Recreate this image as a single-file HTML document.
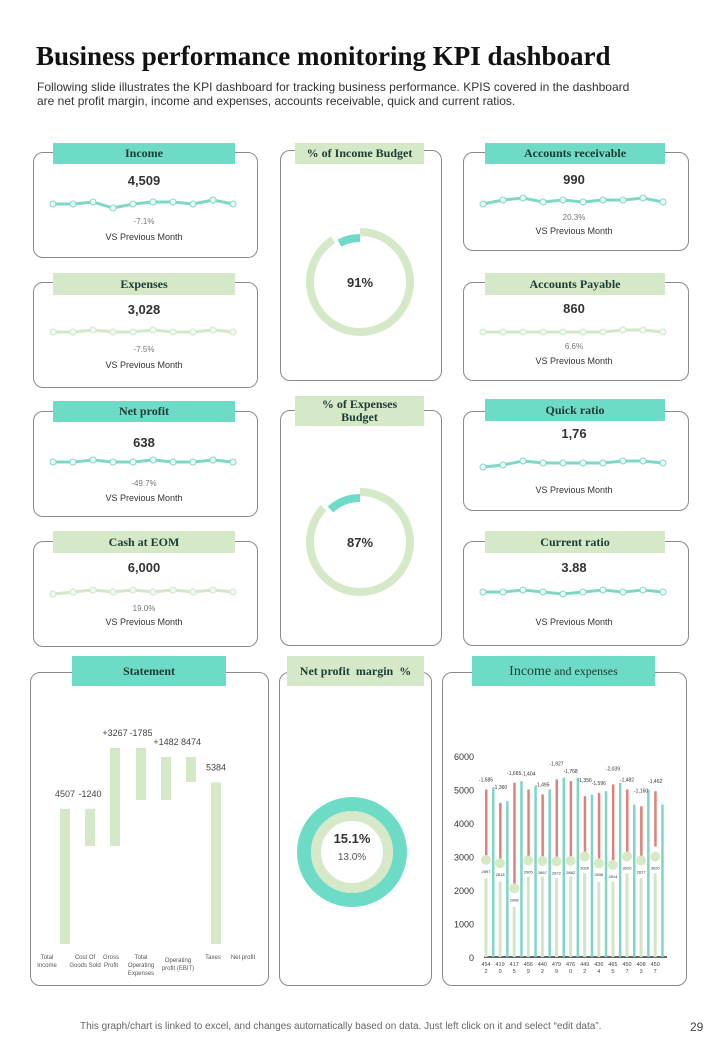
<!DOCTYPE html>
<html><head><meta charset="utf-8">
<style>
body{margin:0;background:#fff;font-family:"Liberation Sans",sans-serif;}
#root{position:relative;width:720px;height:1040px;overflow:hidden;}
.t{position:absolute;white-space:nowrap;}
.card{position:absolute;border:1px solid #8a8a8a;border-radius:10px;background:#fff;}
.hd{position:absolute;font-family:"Liberation Serif",serif;font-weight:bold;font-size:12px;color:#1d3b33;text-align:center;display:flex;align-items:center;justify-content:center;line-height:13px;}
.teal{background:#6edbc6;}.lg{background:#d5e9c9;}
svg{position:absolute;left:0;top:0;}
</style></head><body>
<div id="root">
<div class="t" style="left:36px;top:41px;font-family:'Liberation Serif',serif;font-weight:bold;font-size:27px;color:#111;">Business performance monitoring KPI dashboard</div>
<div class="t" style="left:37px;top:80px;font-size:12px;color:#333;line-height:14px;">Following slide illustrates the KPI dashboard for tracking business performance. KPIS covered in the dashboard<br>are net profit margin, income and expenses, accounts receivable, quick and current ratios.</div>

<div class="card" style="left:33px;top:152px;width:223px;height:104px"></div>
<div class="card" style="left:33px;top:282px;width:223px;height:104px"></div>
<div class="card" style="left:33px;top:411px;width:223px;height:104px"></div>
<div class="card" style="left:33px;top:541px;width:223px;height:104px"></div>
<div class="card" style="left:280px;top:150px;width:160px;height:229px"></div>
<div class="card" style="left:280px;top:410px;width:160px;height:234px"></div>
<div class="card" style="left:463px;top:152px;width:224px;height:97px"></div>
<div class="card" style="left:463px;top:282px;width:224px;height:97px"></div>
<div class="card" style="left:463px;top:411px;width:224px;height:98px"></div>
<div class="card" style="left:463px;top:541px;width:224px;height:103px"></div>
<div class="card" style="left:30px;top:672px;width:237px;height:312px"></div>
<div class="card" style="left:279px;top:672px;width:151px;height:312px"></div>
<div class="card" style="left:442px;top:672px;width:243px;height:312px"></div>

<div class="hd teal" style="left:53px;top:143px;width:182px;height:21px">Income</div>
<div class="hd lg" style="left:53px;top:273px;width:182px;height:22px">Expenses</div>
<div class="hd teal" style="left:53px;top:401px;width:182px;height:21px">Net profit</div>
<div class="hd lg" style="left:53px;top:531px;width:182px;height:22px">Cash at EOM</div>
<div class="hd lg" style="left:295px;top:143px;width:129px;height:21px">% of Income Budget</div>
<div class="hd lg" style="left:295px;top:396px;width:129px;height:30px">% of Expenses<br>Budget</div>
<div class="hd teal" style="left:485px;top:143px;width:180px;height:21px">Accounts receivable</div>
<div class="hd lg" style="left:485px;top:273px;width:180px;height:22px">Accounts Payable</div>
<div class="hd teal" style="left:485px;top:399px;width:180px;height:22px">Quick ratio</div>
<div class="hd lg" style="left:485px;top:531px;width:180px;height:22px">Current ratio</div>
<div class="hd teal" style="left:72px;top:656px;width:154px;height:30px">Statement</div>
<div class="hd lg" style="left:287px;top:656px;width:137px;height:30px">Net profit &nbsp;margin &nbsp;%</div>
<div class="hd teal" style="left:472px;top:656px;width:183px;height:30px;font-size:14px;font-weight:normal">Income <span style="font-size:12px">&nbsp;and expenses</span></div>

<svg id="g" width="720" height="1040"></svg>

<div class="t" style="left:80px;top:1021px;font-size:10px;color:#666;">This graph/chart is linked to excel, and changes automatically based on data. Just left click on it and select “edit data”.</div>
<div class="t" style="left:690px;top:1020px;font-size:12px;color:#444;">29</div>
</div>
<script>
const NS="http://www.w3.org/2000/svg",svg=document.getElementById('g');
function el(tag,a,txt){const e=document.createElementNS(NS,tag);for(const k in a)e.setAttribute(k,a[k]);if(txt!==undefined)e.textContent=txt;svg.appendChild(e);return e;}

// KPI sparkline data
const kpiNames=["income","expenses","net-profit","cash-eom","accounts-receivable","accounts-payable","quick-ratio","current-ratio"];
const kpiValues=["4,509","3,028","638","6,000","990","860","1,76","3.88"];
const kpiChanges=["-7.1%","-7.5%","-49.7%","19.0%","20.3%","6.6%","",""];
const sparkIncome=[5,5,6,3,5,6,6,5,7,5];
const sparkExpenses=[5,5,6,5,5,6,5,5,6,5];
const sparkNetProfit=[5,5,6,5,5,6,5,5,6,5];
const sparkCash=[4,5,6,5,6,5,6,5,6,5];
const sparkAR=[3,5,6,4,5,4,5,5,6,4];
const sparkAP=[5,5,5,5,5,5,5,6,6,5];
const sparkQuick=[3,4,6,5,5,5,5,6,6,5];
const sparkCurrent=[5,5,6,5,4,5,6,5,6,5];
const sparks=[sparkIncome,sparkExpenses,sparkNetProfit,sparkCash,sparkAR,sparkAP,sparkQuick,sparkCurrent];
const cardX=[55,55,55,55,485,485,485,485], cardTop=[152,282,411,541,152,282,411,541];
const sparkDy=[52,50,51,51,48,50,52,51];
const valDy=[33,32,36,31,32,31,27,31];
const chgDy=[72,70,75,70,68,67,0,0];
const vsDy=[88,86,90,84,82,82,82,84];
const lineCol=["#7fd8c6","#d2e8c6","#7fd8c6","#d2e8c6","#7fd8c6","#d2e8c6","#7fd8c6","#7fd8c6"];
for(let i=0;i<8;i++){
  const x0=cardX[i],cx=x0+89,t=cardTop[i];
  const v=el('text',{x:cx,y:t+valDy[i],'text-anchor':'middle','font-size':13,'font-weight':'bold',fill:'#333','font-family':'Liberation Sans'},kpiValues[i]);
  
  if(kpiChanges[i]){const c=el('text',{x:cx,y:t+chgDy[i],'text-anchor':'middle','font-size':8,fill:'#777','font-family':'Liberation Sans'},kpiChanges[i]);
  }
  const s=el('text',{x:cx,y:t+vsDy[i],'text-anchor':'middle','font-size':9,fill:'#333','font-family':'Liberation Sans'},'VS Previous Month');
  
  const d=sparks[i],base=t+sparkDy[i];
  const pts=d.map((y,j)=>[x0-2+j*20,base-(y-5)*2]);
  const pl=el('polyline',{points:pts.map(p=>p.join(',')).join(' '),fill:'none',stroke:lineCol[i],'stroke-width':3});
  
  pts.forEach(p=>{const c=el('circle',{cx:p[0],cy:p[1],r:3,fill:'#eefaf7',stroke:lineCol[i],'stroke-width':1});
    });
}

// Budget donuts
const budgetNames=["income-budget","expenses-budget"];
const budgetPct=[91,87];
const budgetCy=[282,542];
function arc(cx,cy,r,a0,a1){const p=a=>[cx+r*Math.cos(a),cy+r*Math.sin(a)];const s=p(a0),e=p(a1);const large=(a1-a0)>Math.PI?1:0;return `M${s[0]},${s[1]} A${r},${r} 0 ${large} 1 ${e[0]},${e[1]}`;}
for(let i=0;i<2;i++){
  const cx=360,cy=budgetCy[i],f=budgetPct[i]/100;
  const a0=-Math.PI/2,a1=a0+f*2*Math.PI;
  const r1=el('path',{d:arc(cx,cy,50,a0,a1),fill:'none',stroke:'#d5e9c9','stroke-width':8});
  
  const r2=el('path',{d:arc(cx,cy,44,a1+0.08,a0+2*Math.PI),fill:'none',stroke:'#6edbc6','stroke-width':8});
  
  const tx=el('text',{x:cx,y:cy+5,'text-anchor':'middle','font-size':13,'font-weight':'bold',fill:'#333','font-family':'Liberation Sans'},budgetPct[i]+'%');
  
}

// Net profit margin donut
const npmValue=15.1, npmPrev=13.0;
{
  const cx=352,cy=852;
  const o=el('circle',{cx,cy,r:48,fill:'none',stroke:'#6edbc6','stroke-width':14});
  
  const inn=el('circle',{cx,cy,r:36,fill:'none',stroke:'#d5e9c9','stroke-width':10});
  
  const a=el('text',{x:cx,y:cy-9,'text-anchor':'middle','font-size':13,'font-weight':'bold',fill:'#333','font-family':'Liberation Sans'},npmValue.toFixed(1)+'%');
  
  const b=el('text',{x:cx,y:cy+8,'text-anchor':'middle','font-size':10,fill:'#555','font-family':'Liberation Sans'},npmPrev.toFixed(1)+'%');
  
}

// Statement waterfall
const stmtCats=[["Total","Income"],["Cost Of","Goods Sold"],["Gross","Profit"],["Total","Operating","Expenses"],["Operating","profit (EBIT)"],["Taxes"],["Net profit"]];
const stmtStart=[0,4507,3267,6533,4800,6233,5384];
const stmtEnd=[4507,3267,6533,4800,6233,5400,0];
const stmtLabels=["4507","-1240","+3267","-1785","+1482","8474","5384"];
{
  const base=944,k=0.03;
  const ys=v=>base-v*k;
  const pos=[65,90,115,141,166,191,216];
  for(let i=0;i<stmtStart.length;i++){
    const top=ys(Math.max(stmtStart[i],stmtEnd[i])),bot=ys(Math.min(stmtStart[i],stmtEnd[i]));
    const r=el('rect',{x:pos[i]-5,y:top,width:10,height:bot-top,fill:'#d5e9c9'});
    
    const l=el('text',{x:pos[i],y:top-12,'text-anchor':'middle','font-size':9,fill:'#444','font-family':'Liberation Sans'},stmtLabels[i]);
    
  }
  const lx=[47,85,111,141,178,213,243];
  stmtCats.forEach((c,i)=>{c.forEach((w,j)=>{
    const t=el('text',{x:lx[i],y:(i===4?962:959)+j*8,'text-anchor':'middle','font-size':6,fill:'#555','font-family':'Liberation Sans'},w);
    });});
}

// Income and expenses chart
const ieCatTop=["454","419","417","456","440","479","476","449","436","465","450","408","450"];
const ieCatBot=["2","0","5","9","2","9","0","2","4","5","7","3","7"];
const ieIncome=[2350,2250,1500,2400,2400,2350,2400,2500,2250,2250,2500,2350,2500];
const ieTeal=[5050,4650,5250,5100,5000,5350,5350,4850,4950,5200,4550,5000,4550];
const ieRedTop=[5000,4600,5200,5000,4850,5300,5250,4800,4900,5150,5000,4500,4950];
const ieRedBot=[2900,2800,2000,2900,2900,2900,2900,2900,2800,2700,2900,2800,3300];
const ieMarker=[2900,2800,2050,2880,2870,2850,2870,3000,2800,2750,3000,2880,3000];
const ieRedLbl=["-1,585","-1,360","-1,665","-1,404","-1,495","-1,927","-1,768","-1,356","-1,596","-2,039","-1,482","-1,160","-1,462"];
const ieMkLbl=["2897","2818","2098","2905","2867","2872","2882","3020","2836","2814","3020","2817","3020"];
const ieTicks=[0,1000,2000,3000,4000,5000,6000];
{
  const y0=957,k=201/6000,x0=486,dx=14.1;
  const Y=v=>y0-v*k, X=i=>x0+i*dx;
  ieTicks.forEach(t=>{const e=el('text',{x:474,y:Y(t)+4,'text-anchor':'end','font-size':9,fill:'#333','font-family':'Liberation Sans'},t);
    });
  const ax=el('line',{x1:484,y1:y0,x2:667,y2:y0,stroke:'#333','stroke-width':1.5});
  
  for(let i=0;i<ieCatTop.length;i++){
    const x=X(i);
    const b=el('rect',{x:x-1.5,y:Y(ieIncome[i]),width:3,height:y0-Y(ieIncome[i]),fill:'#d5e4c6'});
    
    const tl=el('rect',{x:x+6,y:Y(ieTeal[i]),width:2.5,height:y0-Y(ieTeal[i]),fill:'#7ed6c4'});
    
    const rd=el('rect',{x:x-1,y:Y(ieRedTop[i]),width:2.5,height:Y(ieRedBot[i])-Y(ieRedTop[i]),fill:'#e08078'});
    
    const m=el('circle',{cx:x,cy:Y(ieMarker[i]),r:5,fill:'#d7e8c4'});
    
    const ml=el('text',{x:x,y:Y(ieMarker[i])+13,'text-anchor':'middle','font-size':4,fill:'#333','font-family':'Liberation Sans'},ieMkLbl[i]);
    
    const rl=el('text',{x:x,y:Y(ieRedTop[i])-(i%2?14:8),'text-anchor':'middle','font-size':5,fill:'#333','font-family':'Liberation Sans'},ieRedLbl[i]);
    
    const c1=el('text',{x:x,y:966,'text-anchor':'middle','font-size':5.5,fill:'#444','font-family':'Liberation Sans'},ieCatTop[i]);
    
    const c2=el('text',{x:x,y:973,'text-anchor':'middle','font-size':5.5,fill:'#444','font-family':'Liberation Sans'},ieCatBot[i]);
    
  }
}
</script>
</body></html>
